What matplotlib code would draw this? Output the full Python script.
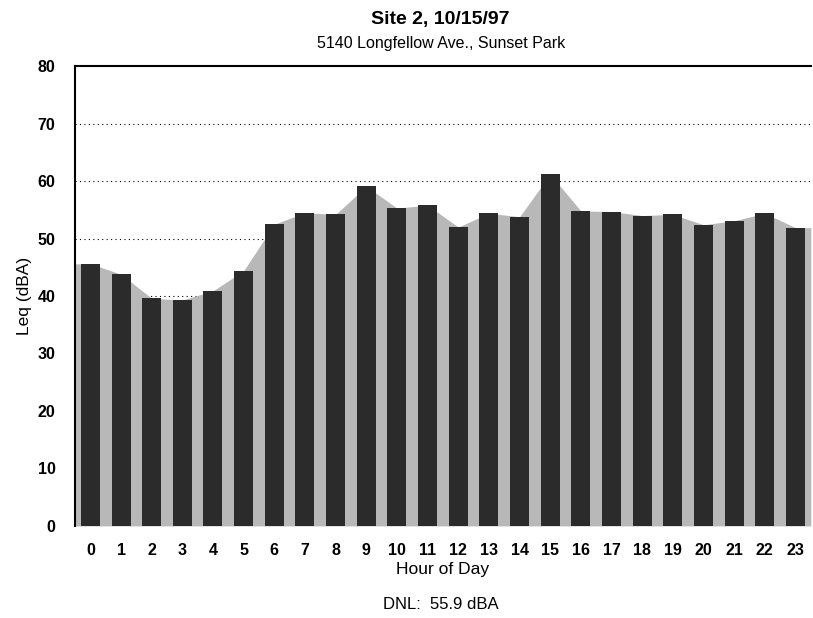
import matplotlib
matplotlib.use("Agg")
import matplotlib.pyplot as plt
import numpy as np

plt.rcParams['font.family'] = ['Liberation Sans', 'DejaVu Sans']

# hourly Leq values
hours = list(range(24))
leq = [45.6, 43.8, 39.6, 39.3, 40.9, 44.4, 52.5, 54.5, 54.2, 59.1, 55.3, 55.8,
       52.0, 54.4, 53.8, 61.2, 54.8, 54.7, 54.0, 54.2, 52.4, 53.1, 54.4, 51.9]
yticks = [0, 10, 20, 30, 40, 50, 60, 70, 80]
title = "Site 2, 10/15/97"
subtitle = "5140 Longfellow Ave., Sunset Park"
dnl_text = "DNL:  55.9 dBA"

fig = plt.figure(figsize=(8.13, 6.18), dpi=100)
ax = fig.add_axes([0.0923, 0.149, 0.905, 0.744])

# light stippled background area behind the bars
xa = [-0.5] + hours + [23.5]
ya = [leq[0]] + leq + [leq[-1]]
ax.fill_between(xa, ya, 0, color='#b8b8b8', zorder=1, linewidth=0)

ax.bar(hours, leq, width=0.62, color='#2b2b2b', zorder=3)

# dotted gridlines
for y in yticks[1:-1]:
    ax.axhline(y, color='black', linestyle=(0, (1, 3)), linewidth=0.8, zorder=0.5)

ax.set_xlim(-0.5, 23.5)
ax.set_ylim(0, 80)
ax.set_yticks(yticks)
ax.set_xticks(hours)
ax.set_xticklabels([str(h) for h in hours])
ax.tick_params(axis='both', length=0, labelsize=11.5)
ax.tick_params(axis='y', pad=14)
ax.tick_params(axis='x', pad=12)
for lbl in ax.get_xticklabels() + ax.get_yticklabels():
    lbl.set_fontweight('bold')

ax.spines['right'].set_visible(False)
ax.spines['bottom'].set_visible(False)
ax.spines['left'].set_linewidth(1.5)
ax.spines['top'].set_linewidth(1.5)

ax.set_ylabel("Leq (dBA)", fontsize=12.5, labelpad=4)
ax.set_xlabel("Hour of Day", fontsize=12.5, labelpad=3)

fig.text(0.542, 0.968, title, ha='center', va='center', fontsize=14, fontweight='bold')
fig.text(0.542, 0.929, subtitle, ha='center', va='center', fontsize=11.5)
fig.text(0.542, 0.022, dnl_text, ha='center', va='center', fontsize=12)

fig.savefig("out.png", dpi=100)
